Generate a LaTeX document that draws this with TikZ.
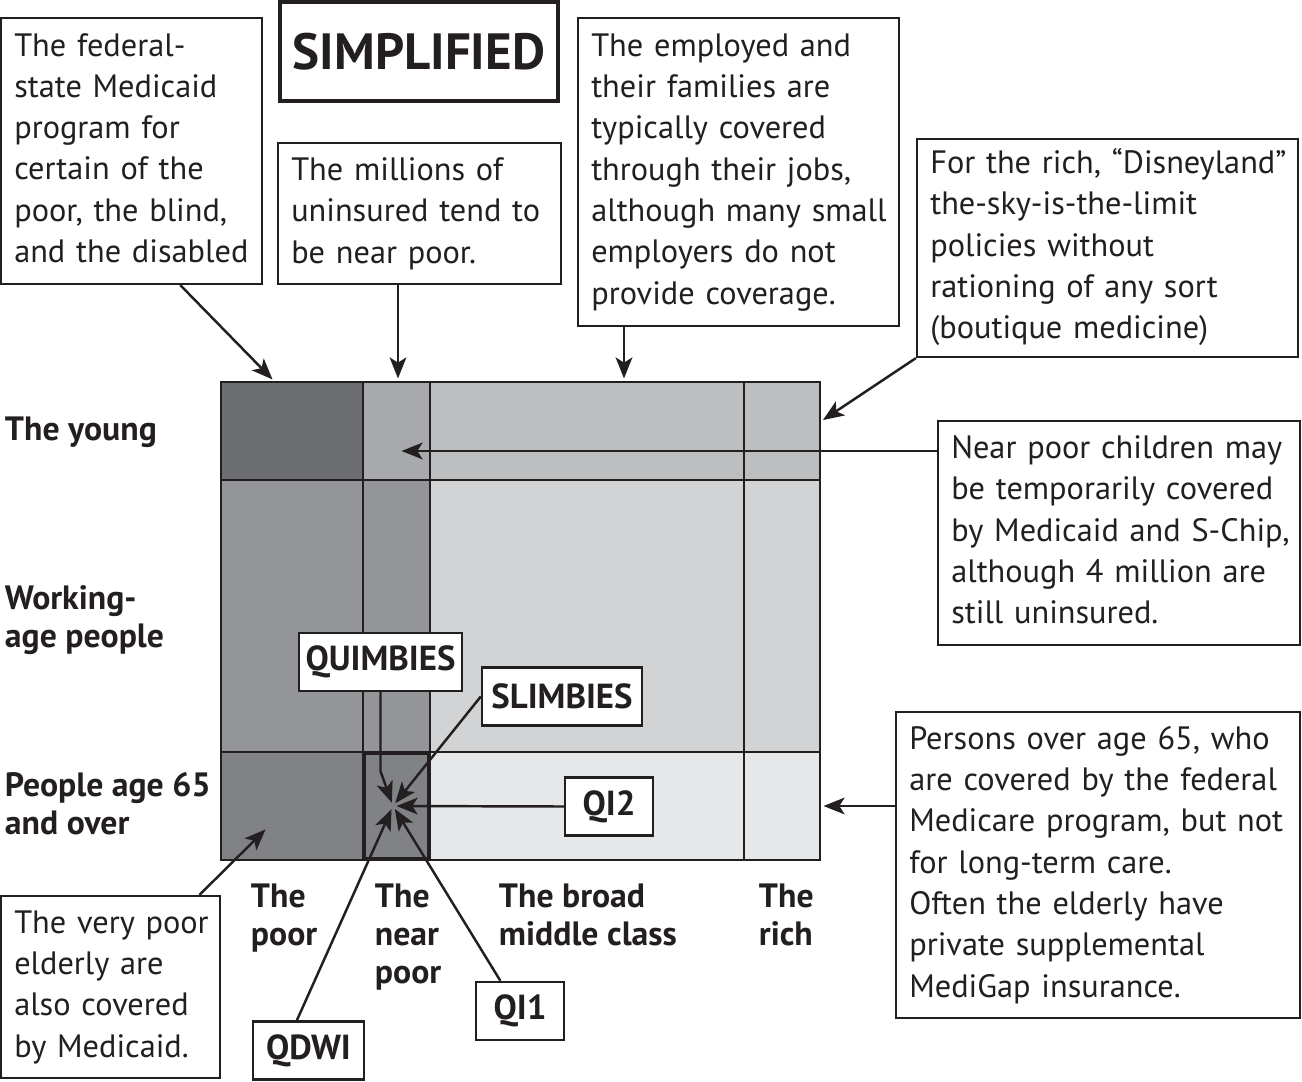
\documentclass[tikz,border=0pt]{standalone}
\usepackage{fontspec}
\setmainfont{PT Sans}
\usetikzlibrary{arrows.meta}

\definecolor{ink}{HTML}{231F20}
\definecolor{youngpoorfill}{HTML}{6D6E71}
\definecolor{youngnearfill}{HTML}{A7A9AC}
\definecolor{youngmidfill}{HTML}{BCBEC0}
\definecolor{workpoorfill}{HTML}{939598}
\definecolor{workmidfill}{HTML}{D1D3D4}
\definecolor{oldpoorfill}{HTML}{808285}
\definecolor{oldmidfill}{HTML}{E6E7E8}

% lines of a note, kept unbroken
\newcommand{\notelines}[1]{\begin{tabular}{@{}l@{}}#1\end{tabular}}

\begin{document}
\begin{tikzpicture}[x=0.02cm, y=-0.02cm,
                    draw=ink,
                    text=ink,
                    line width=1.1pt,
                    >={Stealth[length=12pt, width=9.5pt, inset=3pt]}]
    \tikzstyle{note}=[draw, line width=1.3pt, fill=white, inner xsep=7.5pt, inner ysep=0pt,
                      font=\fontsize{18.4}{23.5}\selectfont]
    \tikzstyle{tag}=[draw, line width=1.4pt, fill=white, inner sep=0pt, font=\bfseries\fontsize{19.8}{21.5}\selectfont, minimum height=1.16cm]
    \tikzstyle{axis}=[anchor=west, align=left, inner sep=0pt, font=\bfseries\fontsize{19.2}{21.5}\selectfont]
    \tikzstyle{link}=[->, line width=1.4pt, shorten >=2pt]

    \useasboundingbox (0,0) rectangle (1302,1082);

    % cells of the grid
    \fill[youngpoorfill] (221,382) rectangle (363,480);
    \fill[youngnearfill] (363,382) rectangle (430,480);
    \fill[youngmidfill] (430,382) rectangle (820,480);
    \fill[workpoorfill] (221,480) rectangle (430,752);
    \fill[workmidfill] (430,480) rectangle (820,752);
    \fill[oldpoorfill] (221,752) rectangle (430,860);
    \fill[oldmidfill] (430,752) rectangle (820,860);
    \draw (221,382) rectangle (820,860);
    \draw (363,382) -- (363,860) (430,382) -- (430,860) (744,382) -- (744,860);
    \draw (221,480) -- (820,480) (221,752) -- (820,752);
    \draw[line width=2pt] (364,753) rectangle (429,859);

    \coordinate (youngpoor) at (275,382);
    \coordinate (youngnear) at (398,382);
    \coordinate (youngmid) at (624,382);
    \coordinate (youngrich) at (820,422);
    \coordinate (nearchild) at (398,451);
    \coordinate (oldrich) at (820,806);
    \coordinate (oldpoor) at (268,827);
    \coordinate (hub) at (393,806);

    % row and column headings
    \node[axis] (young) at (4,432) {The young};
    \node[axis] (working) at (4,620) {Working-\\age people};
    \node[axis] (old) at (4,804) {People age 65\\and over};
    \node[axis] (poor) at (250,918) {The\\poor};
    \node[axis] (near) at (374,937) {The\\near\\poor};
    \node[axis] (middle) at (498,915) {The broad\\middle class};
    \node[axis] (rich) at (758,915) {The\\rich};

    % notes
    \node[draw, line width=2pt, minimum width=5.56cm, minimum height=1.98cm, font=\bfseries\fontsize{29}{32}\selectfont] (title) at (419,51.5) {SIMPLIFIED};
    \node[note, minimum width=5.22cm, minimum height=5.32cm, text width=4.69cm] (fedbox) at (131.5,151)
        {\notelines{The federal-\\state Medicaid\\program for\\certain of the\\poor, the blind,\\and the disabled}};
    \node[note, minimum width=5.66cm, minimum height=2.82cm, text width=5.13cm] (gapbox) at (419.5,213.5)
        {\notelines{The millions of\\uninsured tend to\\be near poor.}};
    \node[note, minimum width=6.42cm, minimum height=6.16cm, text width=5.89cm] (jobbox) at (738.5,172)
        {\notelines{The employed and\\their families are\\typically covered\\through their jobs,\\although many small\\employers do not\\provide coverage.}};
    \node[note, minimum width=7.62cm, minimum height=4.36cm, text width=7.09cm] (richbox) at (1107.5,248)
        {\notelines{For the rich, “Disneyland”\\the-sky-is-the-limit\\policies without\\rationing of any sort\\(boutique medicine)}};
    \node[note, minimum width=7.24cm, minimum height=4.48cm, text width=6.71cm] (childbox) at (1119,533)
        {\notelines{Near poor children may\\be temporarily covered\\by Medicaid and S-Chip,\\although 4 million are\\still uninsured.}};
    \node[note, minimum width=8.08cm, minimum height=6.12cm, text width=7.55cm] (oldbox) at (1098,865)
        {\notelines{Persons over age 65, who\\are covered by the federal\\Medicare program, but not\\for long-term care.\\Often the elderly have\\private supplemental\\MediGap insurance.}};
    \node[note, minimum width=4.38cm, minimum height=3.64cm, text width=3.85cm] (verybox) at (110.5,987)
        {\notelines{The very poor\\elderly are\\also covered\\by Medicaid.}};

    % program tags
    \node[tag, minimum width=3.26cm] (quimbies) at (380.5,662) {QUIMBIES};
    \node[tag, minimum width=3.2cm] (slimbies) at (562,696.5) {SLIMBIES};
    \node[tag, minimum width=1.76cm] (qitwo) at (609,806.5) {QI2};
    \node[tag, minimum width=1.76cm] (qione) at (520,1011) {QI1};
    \node[tag, minimum width=2.22cm] (qdwi) at (308.5,1050.5) {QDWI};

    % arrows
    \draw[link] (fedbox.-70.7) -- (youngpoor);
    \draw[link] (youngnear |- gapbox.south) -- (youngnear);
    \draw[link] (youngmid |- jobbox.south) -- (youngmid);
    \draw[link] (richbox.south west) -- (youngrich);
    \draw[link] (childbox.west |- nearchild) -- (nearchild);
    \draw[link] (oldbox.west |- oldrich) -- (oldrich);
    \draw[link] (verybox.46.1) -- (oldpoor);
    \draw[link] (quimbies.south) -- ++(0,79) -- (hub);
    \draw[link] (slimbies.west) -- (hub);
    \draw[link] (qitwo.west) -- (hub);
    \draw[link] (qione.123.2) -- (hub);
    \draw[link] (qdwi.111.3) -- (hub);
\end{tikzpicture}
\end{document}
